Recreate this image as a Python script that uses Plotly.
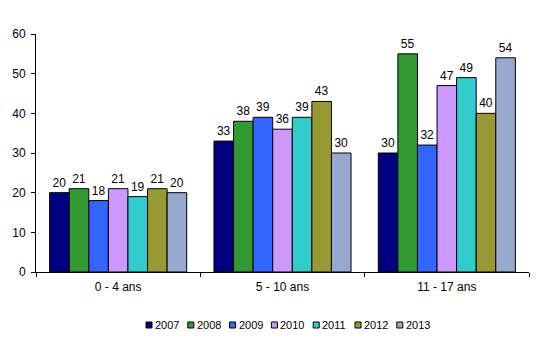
import plotly.graph_objects as go

categories = ["0 - 4 ans", "5 - 10 ans", "11 - 17 ans"]
years = ["2007", "2008", "2009", "2010", "2011", "2012", "2013"]
values = {
    "2007": [20, 33, 30],
    "2008": [21, 38, 55],
    "2009": [18, 39, 32],
    "2010": [21, 36, 47],
    "2011": [19, 39, 49],
    "2012": [21, 43, 40],
    "2013": [20, 30, 54],
}
colors = ["#000080", "#339933", "#3366FF", "#CC99FF", "#33CCCC", "#999933", "#99A8CF"]
y_ticks = [0, 10, 20, 30, 40, 50, 60]

W, H = 550, 346
L, R, T, B = 36, 21, 34, 74
pw, ph = W - L - R, H - T - B


def px(x):
    return (x - L) / pw


def py(y):
    return (H - B - y) / ph


fig = go.Figure()
for y, c in zip(years, colors):
    fig.add_trace(go.Bar(
        x=categories, y=values[y], name=y,
        marker=dict(color=c, line=dict(color="black", width=1)),
        text=values[y], textposition="outside", cliponaxis=False,
        textfont=dict(size=12, color="black", family="Liberation Sans"),
    ))

# custom compact legend
x0 = 146
pitch = 41.8
for i, (y, c) in enumerate(zip(years, colors)):
    sx = x0 + i * pitch
    fig.add_shape(type="rect", xref="paper", yref="paper",
                  x0=px(sx), x1=px(sx + 6), y0=py(328), y1=py(322),
                  fillcolor=c, line=dict(color="black", width=1))
    fig.add_annotation(xref="paper", yref="paper", x=px(sx + 7), y=py(325),
                       xanchor="left", yanchor="middle", text=y, showarrow=False,
                       font=dict(size=11, color="black", family="Liberation Sans"))

fig.update_layout(
    width=W, height=H,
    margin=dict(l=L, r=R, t=T, b=B),
    paper_bgcolor="white", plot_bgcolor="white",
    barmode="group", bargap=0.166, bargroupgap=0,
    font=dict(family="Liberation Sans", size=12, color="black"),
    showlegend=False,
)
fig.update_xaxes(
    showline=True, linecolor="black", linewidth=1,
    ticks="outside", tickson="boundaries", ticklen=4, tickcolor="black",
    showgrid=False, tickfont=dict(size=12), ticklabelstandoff=4,
)
fig.update_yaxes(
    range=[0, 60], tickvals=y_ticks, showline=True, linecolor="black", linewidth=1,
    ticks="outside", ticklen=4, tickcolor="black", showgrid=False, zeroline=False,
    tickfont=dict(size=12), ticklabelstandoff=3,
)
fig.write_html("out.html")
